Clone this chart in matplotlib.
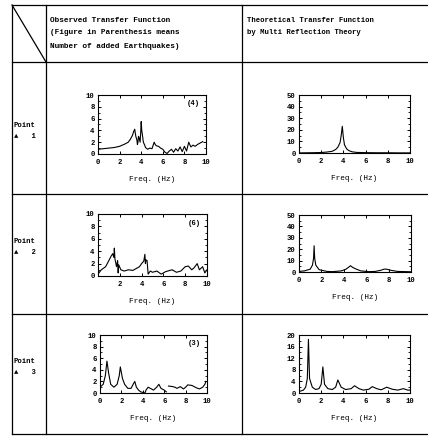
import numpy as np
import matplotlib.pyplot as plt
from matplotlib.ticker import MultipleLocator

plt.rc('font', family='Liberation Mono', weight='bold', size=5.2)

W, H = 428, 436

# observed transfer function, point 1  (4)
f1 = [0, 0.5, 1.0, 1.5, 2.0, 2.5, 2.8, 3.0, 3.2, 3.3, 3.4, 3.5, 3.6, 3.65, 3.7, 3.75, 3.8,
      3.9, 3.95, 4.0, 4.05, 4.1, 4.2, 4.3, 4.4, 4.6, 4.8, 5.0, 5.2, 5.3, 5.4, 5.6, 5.8, 6.0,
      6.2, 6.4, 6.6, 6.8, 7.0, 7.2, 7.4, 7.6, 7.8, 8.0, 8.2, 8.4, 8.6, 8.8, 9.0, 9.2, 9.4, 9.6, 9.7]
a1 = [0.8, 0.9, 1.0, 1.1, 1.3, 1.7, 2.0, 2.5, 3.2, 3.8, 4.2, 3.0, 2.4, 1.6, 2.0, 3.0, 2.8,
      2.0, 3.5, 5.5, 4.0, 3.4, 2.0, 1.6, 1.1, 0.8, 1.0, 0.9, 2.0, 1.6, 1.4, 1.3, 1.0, 0.8,
      0.3, 0.1, 0.5, 0.8, 0.3, 0.9, 0.5, 1.2, 0.4, 1.3, 0.5, 2.0, 1.2, 1.5, 1.3, 1.6, 1.8, 2.0, 2.1]

# theoretical, point 1
f2 = [0, 1.0, 2.0, 2.5, 3.0, 3.3, 3.5, 3.7, 3.8, 3.9, 4.0, 4.1, 4.3, 4.5, 4.8, 5.2, 6.0, 7.0, 8.0, 9.0, 10.0]
a2 = [0.1, 0.2, 0.4, 0.8, 1.5, 3.0, 5.0, 9.0, 15.0, 23.0, 13.0, 7.0, 3.5, 2.0, 1.0, 0.5, 0.3, 0.2, 0.2, 0.1, 0.1]

# observed, point 2  (6)
f3 = [0, 0.3, 0.7, 1.0, 1.2, 1.35, 1.45, 1.5, 1.55, 1.7, 1.8, 1.85, 1.9, 2.1, 2.4, 2.8, 3.2,
      3.5, 3.8, 4.0, 4.2, 4.3, 4.35, 4.4, 4.5, 4.6, 4.8, 5.0, 5.4, 5.8, 6.2, 6.6, 6.8, 7.2,
      7.6, 8.0, 8.3, 8.6, 8.8, 9.1, 9.3, 9.6, 9.8, 10.0]
a3 = [0.3, 1.0, 1.5, 2.5, 3.2, 3.6, 3.0, 4.5, 2.8, 1.5, 2.5, 0.5, 1.8, 1.0, 0.8, 1.0, 0.9,
      1.2, 1.5, 2.0, 2.4, 3.5, 2.0, 2.6, 2.5, 0.3, 0.8, 0.6, 0.8, 0.3, 0.7, 0.9, 1.0, 0.6,
      0.8, 1.5, 1.6, 1.0, 1.3, 2.0, 1.0, 1.5, 0.5, 1.0]

# theoretical, point 2
f4 = [0, 0.5, 1.0, 1.2, 1.3, 1.35, 1.4, 1.5, 1.8, 2.5, 3.0, 3.8, 4.2, 4.4, 4.6, 4.8, 5.0,
      5.5, 6.2, 6.8, 7.3, 7.6, 7.8, 8.2, 8.8, 10.0]
a4 = [0.5, 1.0, 2.5, 6.0, 12.0, 23.0, 12.0, 6.0, 2.0, 0.5, 0.3, 1.0, 2.5, 4.0, 5.5, 4.0, 3.0,
      1.0, 0.3, 0.5, 1.5, 2.5, 2.5, 1.5, 0.5, 0.2]

# observed, point 3  (3)
f5 = [0, 0.3, 0.5, 0.65, 0.8, 1.0, 1.3, 1.6, 1.8, 1.9, 2.1, 2.3, 2.6, 2.9, 3.1, 3.25, 3.4,
      3.6, 3.8, 4.0, 4.2, 4.3, 4.5, 4.7, 5.0, 5.3, 5.5, 5.7, 6.0, 6.2, 6.3, 6.4, 6.8, 7.0,
      7.2, 7.5, 7.8, 8.0, 8.2, 8.6, 9.0, 9.3, 9.6, 9.8, 9.9]
a5 = [1.0, 1.5, 3.0, 5.5, 3.5, 1.5, 1.0, 1.5, 3.0, 4.5, 2.5, 1.5, 0.8, 0.8, 1.5, 2.0, 1.0,
      0.5, 0.2, 0.1, 0.0, 0.5, 1.0, 0.8, 0.5, 1.0, 1.5, 0.8, 0.5, 0.2, np.nan, 1.2, 1.1, 1.0,
      0.8, 1.1, 0.7, 1.0, 1.4, 1.3, 0.9, 0.7, 1.0, 1.5, 2.0]

# theoretical, point 3
f6 = [0, 0.4, 0.6, 0.75, 0.85, 0.95, 1.2, 1.5, 1.8, 2.0, 2.15, 2.3, 2.6, 3.0, 3.3, 3.5, 3.8,
      4.2, 4.7, 5.0, 5.4, 5.8, 6.3, 6.6, 7.0, 7.4, 7.9, 8.4, 8.9, 9.4, 9.8, 10.0]
a6 = [0.5, 1.0, 2.0, 5.0, 18.5, 5.0, 2.0, 1.2, 1.5, 3.0, 9.0, 3.0, 1.5, 1.2, 2.0, 4.5, 2.0,
      1.2, 1.5, 2.5, 1.5, 1.0, 1.3, 2.2, 1.5, 1.1, 2.0, 1.3, 1.0, 1.5, 1.0, 1.0]

tags = ['(4)', '', '(6)', '', '(3)', '']
ymax = [10, 50, 10, 50, 10, 20]
ystep = [2, 10, 2, 10, 2, 4]
xlab0 = [True, True, False, True, True, True]
curves = [(f1, a1), (f2, a2), (f3, a3), (f4, a4), (f5, a5), (f6, a6)]
# axes boxes in pixels: left, top, right, bottom
boxes = [(98, 95, 206, 154), (299, 95, 410, 153),
         (98, 214, 207, 276), (299, 215, 411, 272),
         (100, 335, 207, 393), (299, 335, 410, 393)]

fig = plt.figure(figsize=(W / 100, H / 100), dpi=100)

# table frame
bg = fig.add_axes([0, 0, 1, 1])
bg.set_xlim(0, W)
bg.set_ylim(H, 0)
bg.axis('off')
lw = 0.9
for y in [5, 62, 194, 314, 434]:
    bg.plot([12, W], [y, y], color='black', lw=lw)
for x in [12, 46, 242]:
    bg.plot([x, x], [5, 434], color='black', lw=lw)
bg.plot([12, 46], [5, 62], color='black', lw=lw)

bg.text(50, 20, 'Observed Transfer Function', va='center', fontsize=5.6)
bg.text(50, 33, '(Figure in Parenthesis means', va='center', fontsize=5.6)
bg.text(50, 46, 'Number of added Earthquakes)', va='center', fontsize=5.6)
bg.text(247, 20, 'Theoretical Transfer Function', va='center', fontsize=5.2)
bg.text(247, 33, 'by Multi Reflection Theory', va='center', fontsize=5.2)

for i, yc in enumerate([130, 246, 366]):
    bg.text(14, yc - 5, 'Point', va='center')
    bg.text(14, yc + 6, '\u25b2   %d' % (i + 1), va='center')

for i, (fx, fy) in enumerate(curves):
    l, t, r, b = boxes[i]
    ax = fig.add_axes([l / W, 1 - b / H, (r - l) / W, (b - t) / H])
    ax.plot(fx, fy, color='black', lw=0.8)
    ax.set_xlim(0, 10)
    ax.set_ylim(0, ymax[i])
    ax.set_xticks([0, 2, 4, 6, 8, 10])
    if xlab0[i]:
        ax.set_xticklabels(['0', '2', '4', '6', '8', '10'])
    else:
        ax.set_xticklabels(['', '2', '4', '6', '8', '10'])
    ax.yaxis.set_major_locator(MultipleLocator(ystep[i]))
    ax.yaxis.set_minor_locator(MultipleLocator(ystep[i] / 2))
    ax.tick_params(direction='in', length=2.5, width=0.7, pad=3.5,
                   top=True, right=True, labelsize=5.2)
    ax.tick_params(axis='y', pad=2.5)
    ax.tick_params(which='minor', direction='in', length=1.5, width=0.6, right=True)
    for s in ax.spines.values():
        s.set_linewidth(0.8)
    ax.set_xlabel('Freq. (Hz)', labelpad=7, fontsize=5.6)
    if tags[i]:
        ax.text(0.88, 0.85, tags[i], transform=ax.transAxes, ha='center', va='center')

plt.savefig('out.png', dpi=100)
